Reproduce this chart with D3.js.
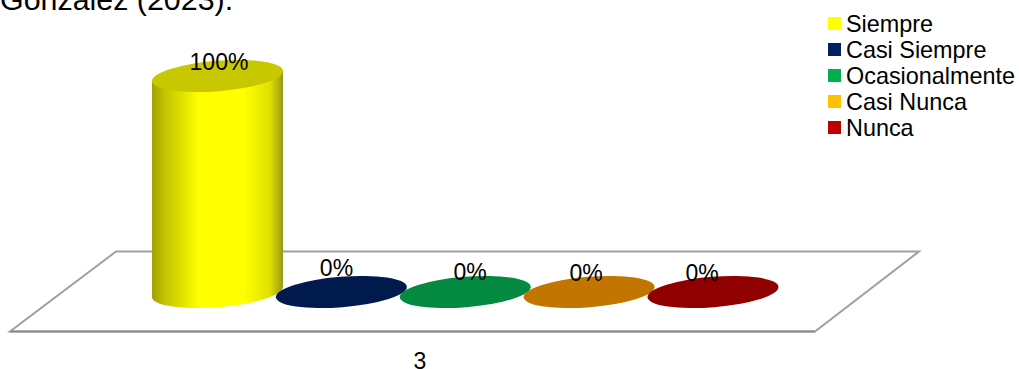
<!DOCTYPE html>
<html>
<head>
<meta charset="utf-8">
<script src="https://cdn.jsdelivr.net/npm/d3@7"></script>
<style>
  html, body { margin: 0; padding: 0; background: #fff; }
  svg { display: block; }
  text { font-family: "Liberation Sans", Arial, sans-serif; fill: #000; }
</style>
</head>
<body>
<div id="wrapper"></div>
<script>
const categories = ['Siempre', 'Casi Siempre', 'Ocasionalmente', 'Casi Nunca', 'Nunca']
const values = [100, 0, 0, 0, 0]
const valueLabels = ['100%', '0%', '0%', '0%', '0%']
const axisLabels = ['3']
const titleText = 'González (2023).'
const legendColors = ['#ffff00', '#002060', '#00b050', '#ffc000', '#c00000']
const capColors = ['#c8c800', '#001a4d', '#038a40', '#c27600', '#900000']

const width = 1019
const height = 369
const rx = 65.7
const ry = 15.2
const tilt = -4.6
const halfW = 65.5
const tiltDrop = 5
// hand placed, the source chart nudges each label a bit
const labelNudge = [[1.5, -6.5], [-4.9, -16], [4.75, -12], [-3.1, -11], [-11, -11]]

const svg = d3.select('#wrapper').append('svg')
  .attr('width', width)
  .attr('height', height)

const x = d3.scalePoint().domain(categories).range([217.5, 713])
const y = d3.scaleLinear().domain([0, 100]).range([292, 76])
const legendY = d3.scalePoint().domain(categories).range([23.5, 127.5])

const defs = svg.append('defs')
const grad = defs.append('linearGradient').attr('id', 'bodyGrad')
const stops = [[0, '#a0a000'], [0.1, '#c4c400'], [0.36, '#ffff00'], [0.7, '#ffff00'], [0.9, '#e0e000'], [1, '#99991a']]
stops.forEach(s => grad.append('stop').attr('offset', s[0]).attr('stop-color', s[1]))

svg.append('text')
  .attr('x', 0)
  .attr('y', 10)
  .attr('font-size', 30.4)
  .text(titleText)

// floor
svg.append('path')
  .attr('d', d3.line()([[116, 251.5], [919, 251.5], [815, 331.5], [10, 331.5]]) + 'Z')
  .attr('fill', '#fff')
  .attr('stroke', '#a0a0a0')
  .attr('stroke-width', 2)
svg.append('path')
  .attr('d', d3.line()([[10, 331.5], [815, 331.5]]))
  .attr('stroke', '#8c8c8c')
  .attr('stroke-width', 2)

const bars = svg.selectAll('g.bar').data(categories).enter().append('g').attr('class', 'bar')

bars.filter((d, i) => values[i] > 0).append('path')
  .attr('fill', 'url(#bodyGrad)')
  .attr('d', (d, i) => {
    const cx = x(d)
    const top = y(values[i])
    const bot = y(0)
    return 'M' + (cx - halfW) + ',' + (top + tiltDrop) +
      'L' + (cx - halfW) + ',' + (bot + tiltDrop) +
      'A' + rx + ',' + ry + ' ' + tilt + ' 0 0 ' + (cx + halfW) + ',' + (bot - tiltDrop) +
      'L' + (cx + halfW) + ',' + (top - tiltDrop) + 'Z'
  })

bars.append('ellipse')
  .attr('rx', rx)
  .attr('ry', ry)
  .attr('fill', (d, i) => capColors[i])
  .attr('transform', (d, i) => 'translate(' + x(d) + ',' + y(values[i]) + ') rotate(' + tilt + ')')

svg.selectAll('text.val').data(categories).enter().append('text')
  .attr('class', 'val')
  .attr('text-anchor', 'middle')
  .attr('font-size', 23)
  .attr('x', (d, i) => x(d) + labelNudge[i][0])
  .attr('y', (d, i) => y(values[i]) + labelNudge[i][1])
  .text((d, i) => valueLabels[i])

svg.append('text')
  .attr('x', 420)
  .attr('y', 369)
  .attr('text-anchor', 'middle')
  .attr('font-size', 23)
  .text(axisLabels[0])

// legend
const legend = svg.selectAll('g.legend').data(categories).enter().append('g')
  .attr('class', 'legend')
  .attr('transform', d => 'translate(828,' + legendY(d) + ')')

legend.append('rect')
  .attr('y', -6.5)
  .attr('width', 13)
  .attr('height', 13)
  .attr('fill', (d, i) => legendColors[i])

legend.append('text')
  .attr('x', 18)
  .attr('y', 8.5)
  .attr('font-size', 23.4)
  .text(d => d)
</script>
</body>
</html>
